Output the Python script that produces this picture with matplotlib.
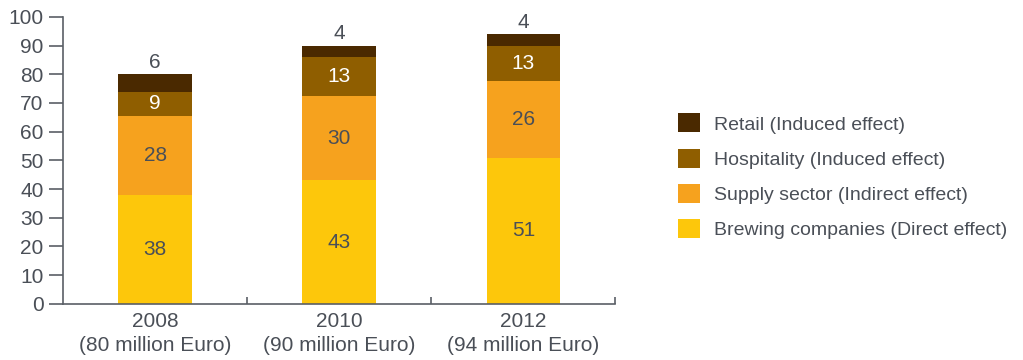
import matplotlib.pyplot as plt
import numpy as np

# data
years = ['2008\n(80 million Euro)', '2010\n(90 million Euro)', '2012\n(94 million Euro)']
series_names = ['Brewing companies (Direct effect)', 'Supply sector (Indirect effect)',
                'Hospitality (Induced effect)', 'Retail (Induced effect)']
brewing = [38, 43, 51]
supply = [27.5, 29.5, 26.5]
hospitality = [8.5, 13.5, 12.5]
retail = [6, 4, 4]
labels_brewing = ['38', '43', '51']
labels_supply = ['28', '30', '26']
labels_hospitality = ['9', '13', '13']
labels_retail = ['6', '4', '4']

colors = ['#fdc70b', '#f6a21e', '#8f5e00', '#4a2900']
text_dark = '#4a4f57'
axis_col = '#5a5f66'

plt.rcParams['font.family'] = ['Liberation Sans', 'DejaVu Sans']
fs = 15

fig = plt.figure(figsize=(10.23, 3.6), dpi=100)
ax = fig.add_axes([0.0616, 0.156, 0.540, 0.797])

x = np.arange(len(years))
width = 0.4
bottom = np.zeros(len(years))
series = [brewing, supply, hospitality, retail]
label_sets = [labels_brewing, labels_supply, labels_hospitality, labels_retail]
bars = []
for i, vals in enumerate(series):
    b = ax.bar(x, vals, width, bottom=bottom, color=colors[i], label=series_names[i])
    bars.append(b)
    for j, v in enumerate(vals):
        if i == 3:
            # retail value sits above the bar
            ax.text(x[j], bottom[j] + v + 0.8, label_sets[i][j], ha='center', va='bottom',
                    fontsize=fs, color=text_dark)
        else:
            col = 'white' if i == 2 else text_dark
            ax.text(x[j], bottom[j] + v / 2, label_sets[i][j], ha='center', va='center',
                    fontsize=fs, color=col)
    bottom = bottom + np.array(vals)

ax.set_xlim(-0.5, 2.5)
ax.set_ylim(0, 100)
ax.set_yticks(range(0, 101, 10))
ax.set_xticks(x)
ax.set_xticklabels(years, fontsize=fs, color=text_dark, linespacing=1.35)
ax.set_xticks([0.5, 1.5, 2.5], minor=True)
ax.tick_params(axis='x', which='major', length=0, pad=6)
ax.tick_params(axis='x', which='minor', direction='in', length=5, color=axis_col, width=1.2)
ax.tick_params(axis='y', length=10, width=1.2, color=axis_col, labelsize=fs,
               labelcolor=text_dark, pad=4)
for s in ['top', 'right']:
    ax.spines[s].set_visible(False)
for s in ['left', 'bottom']:
    ax.spines[s].set_color(axis_col)
    ax.spines[s].set_linewidth(1.2)

handles = [bars[3], bars[2], bars[1], bars[0]]
fig.legend(handles, [series_names[3], series_names[2], series_names[1], series_names[0]],
           loc='center left', bbox_to_anchor=(0.663, 0.51), frameon=False,
           borderpad=0, borderaxespad=0,
           fontsize=14, handlelength=1.13, handleheight=1.13, labelspacing=0.78,
           handletextpad=0.72, labelcolor=text_dark)

plt.savefig('out.png', dpi=100)
